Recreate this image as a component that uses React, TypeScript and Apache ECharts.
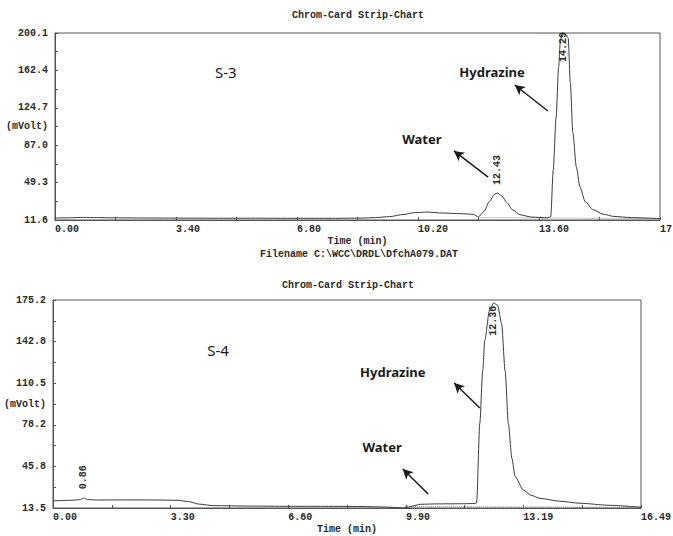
import React, { useEffect, useRef } from "react";
import * as echarts from "echarts";

// ---------- S-3 (top chart) ----------
const s3Time = [0, 0.4, 0.8, 1.2, 1.6, 2.5, 3.4, 4.5, 5.5, 6.8, 7.8, 8.6, 9.0, 9.4, 9.8, 10.1, 10.45, 10.9, 11.4, 11.75, 11.9, 12.05, 12.2, 12.35, 12.43, 12.55, 12.7, 12.85, 13.07, 13.4, 13.85, 13.93, 14.0, 14.08, 14.15, 14.2, 14.25, 14.33, 14.42, 14.48, 14.55, 14.65, 14.75, 14.9, 15.12, 15.4, 15.7, 16.2, 17.0];
const s3Volt = [13.6, 13.8, 14.2, 14.0, 13.8, 13.6, 13.5, 13.4, 13.4, 13.3, 13.3, 13.5, 14.0, 15.0, 17.2, 19.0, 19.6, 18.6, 18.0, 17.3, 14.8, 20.0, 30.0, 37.5, 38.8, 36.0, 29.0, 22.0, 16.8, 14.5, 13.8, 15.0, 62, 115, 165, 192, 199.5, 199, 195, 150, 100, 65, 45, 30, 22, 17.5, 15.2, 14.0, 13.0];
const s3BaseTime = [11.9, 17.0];
const s3BaseVolt = [14.0, 13.0];
const s3XTicks = [0, 3.4, 6.8, 10.2, 13.6, 17];
const s3XLabels = ["0.00", "3.40", "6.80", "10.20", "13.60", "17"];
const s3XMinor = [0, 1.7, 3.4, 5.1, 6.8, 8.5, 10.2, 11.9, 13.6, 15.3, 17];
const s3YTicks = [11.6, 49.3, 87.0, 124.7, 162.4, 200.1];
const s3YLabels = ["11.6", "49.3", "87.0", "124.7", "162.4", "200.1"];
const s3YMinor = [11.6, 30.45, 49.3, 68.15, 87.0, 105.85, 124.7, 143.55, 162.4, 181.25, 200.1];
const s3Peaks = [[12.43, 62, "12.43"], [14.29, 186, "14.29"]];
const s3Notes = [[4.8, 160.8, "S-3", "normal"], [12.28, 160.8, "Hydrazine", "bold"], [10.31, 93.3, "Water", "bold"]];
const s3Arrows = [[13.85, 121.5, 12.92, 147.7], [12.17, 54.9, 11.21, 81.2]];

// ---------- S-4 (bottom chart) ----------
const s4Time = [0, 0.5, 0.75, 0.86, 0.97, 1.3, 2.0, 3.0, 3.5, 3.8, 4.1, 4.5, 5.5, 6.6, 7.5, 8.5, 9.3, 9.75, 9.9, 10.05, 10.3, 10.8, 11.5, 11.83, 11.88, 11.97, 12.05, 12.11, 12.24, 12.36, 12.47, 12.58, 12.68, 12.77, 12.87, 12.96, 13.19, 13.4, 13.66, 14.2, 14.78, 15.6, 16.49];
const s4Volt = [19.0, 19.5, 20.0, 21.2, 20.0, 19.7, 19.8, 19.7, 19.5, 18.5, 16.5, 15.3, 15.0, 14.8, 14.8, 14.7, 14.3, 13.6, 13.6, 14.8, 16.4, 16.7, 16.8, 17.0, 17.4, 79.5, 120, 144, 167, 173, 171, 157, 120, 79, 52, 38, 27.5, 23.5, 21, 18.8, 17.2, 15.6, 14.1];
const s4BaseTime = [9.87, 16.49];
const s4BaseVolt = [14.6, 14.0];
const s4XTicks = [0, 3.3, 6.6, 9.9, 13.19, 16.49];
const s4XLabels = ["0.00", "3.30", "6.60", "9.90", "13.19", "16.49"];
const s4XMinor = [0, 1.65, 3.3, 4.95, 6.6, 8.25, 9.9, 11.545, 13.19, 14.84, 16.49];
const s4YTicks = [13.5, 45.84, 78.18, 110.52, 142.86, 175.2];
const s4YLabels = ["13.5", "45.8", "78.2", "110.5", "142.8", "175.2"];
const s4YMinor = [13.5, 29.67, 45.84, 62.01, 78.18, 94.35, 110.52, 126.69, 142.86, 159.03, 175.2];
const s4Peaks = [[0.86, 37.5, "0.86"], [12.36, 159, "12.36"]];
const s4Notes = [[4.63, 136.4, "S-4", "normal"], [9.53, 119.2, "Hydrazine", "bold"], [9.23, 60.9, "Water", "bold"]];
const s4Arrows = [[11.97, 91.2, 11.25, 110.7], [10.52, 24.4, 9.81, 43.8]];

const title = "Chrom-Card Strip-Chart";
const xName = "Time (min)";
const yName = "(mVolt)";
const fileName = "Filename C:\\WCC\\DRDL\\DfchA079.DAT";

const MONO = "'Liberation Mono', 'DejaVu Sans Mono', monospace";
const SANS = "'Noto Sans', 'Liberation Sans', sans-serif";
const INK = "#2a2a2a";
const AXIS = "#555";

const lookup = (vals: number[], labels: string[]) => (v: number) => {
  const i = vals.findIndex((x) => Math.abs(x - v) < 1e-6);
  return i >= 0 ? labels[i] : "";
};

const zip = (a: number[], b: number[]) => a.map((t, i) => [t, b[i]]);

function xAxisFor(gridIndex: number, max: number, ticks: number[], labels: string[], minor: number[]) {
  return {
    type: "value",
    gridIndex,
    min: 0,
    max,
    name: xName,
    nameLocation: "middle",
    nameGap: 16,
    nameMoveOverlap: false,
    nameTextStyle: { fontFamily: MONO, fontSize: 10, fontWeight: "bold", color: INK },
    splitLine: { show: false },
    axisLine: { show: true, lineStyle: { color: AXIS, width: 1 } },
    axisTick: { show: true, inside: true, length: 3, customValues: minor, lineStyle: { color: AXIS } },
    axisLabel: {
      show: true,
      customValues: ticks,
      formatter: lookup(ticks, labels),
      align: "left",
      margin: 4,
      hideOverlap: false,
      fontFamily: MONO,
      fontSize: 10,
      fontWeight: "bold",
      color: INK,
    },
  };
}

function yAxisFor(gridIndex: number, min: number, max: number, ticks: number[], labels: string[], minor: number[]) {
  return {
    type: "value",
    gridIndex,
    min,
    max,
    name: yName,
    nameLocation: "middle",
    nameRotate: 0,
    nameGap: 7,
    nameMoveOverlap: false,
    nameTextStyle: { fontFamily: MONO, fontSize: 10, fontWeight: "bold", color: INK, align: "right", verticalAlign: "middle" },
    splitLine: { show: false },
    axisLine: { show: true, lineStyle: { color: AXIS, width: 1 } },
    axisTick: { show: true, inside: true, length: 3, customValues: minor, lineStyle: { color: AXIS } },
    axisLabel: {
      show: true,
      customValues: ticks,
      formatter: lookup(ticks, labels),
      margin: 7,
      hideOverlap: false,
      fontFamily: MONO,
      fontSize: 10,
      fontWeight: "bold",
      color: INK,
    },
  };
}

function traceSeries(idx: number, time: number[], volt: number[], peaks: any[], notes: any[], arrows: number[][]) {
  return {
    type: "line",
    xAxisIndex: idx,
    yAxisIndex: idx,
    data: zip(time, volt),
    symbol: "none",
    smooth: 0.25,
    smoothMonotone: "x",
    lineStyle: { color: "#3a3a3a", width: 1 },
    silent: true,
    markPoint: {
      silent: true,
      symbol: "circle",
      symbolSize: 1,
      itemStyle: { color: "rgba(0,0,0,0)" },
      data: [
        ...peaks.map((p) => ({
          coord: [p[0], p[1]],
          label: {
            show: true,
            position: "inside",
            rotate: 90,
            formatter: p[2],
            fontFamily: MONO,
            fontSize: 10,
            fontWeight: "bold",
            color: INK,
          },
        })),
        ...notes.map((n) => ({
          coord: [n[0], n[1]],
          label: {
            show: true,
            position: "inside",
            formatter: n[2],
            fontFamily: SANS,
            fontSize: n[3] === "bold" ? 13 : 15,
            fontWeight: n[3],
            color: "#1a1a1a",
          },
        })),
      ],
    },
    markLine: {
      silent: true,
      animation: false,
      symbol: ["none", "arrow"],
      symbolSize: [8, 10],
      label: { show: false },
      lineStyle: { color: "#1a1a1a", width: 1.5, type: "solid" },
      data: arrows.map((a) => [{ coord: [a[0], a[1]] }, { coord: [a[2], a[3]] }]),
    },
  };
}

function baseSeries(idx: number, time: number[], volt: number[]) {
  return {
    type: "line",
    xAxisIndex: idx,
    yAxisIndex: idx,
    data: zip(time, volt),
    symbol: "none",
    silent: true,
    lineStyle: { color: "#8a8a8a", width: 1, type: "dotted" },
  };
}

export default function App() {
  const ref = useRef<HTMLDivElement>(null);
  useEffect(() => {
    if (!ref.current) return;
    const chart = echarts.init(ref.current, null, { renderer: "svg" });
    const option: any = {
      animation: false,
      backgroundColor: "#ffffff",
      grid: [
        { left: 55, top: 33, width: 605, height: 187, show: true, borderColor: AXIS, borderWidth: 1, containLabel: false, outerBoundsMode: "none" },
        { left: 53, top: 300, width: 588, height: 208, show: true, borderColor: AXIS, borderWidth: 1, containLabel: false, outerBoundsMode: "none" },
      ],
      xAxis: [
        xAxisFor(0, 17, s3XTicks, s3XLabels, s3XMinor),
        xAxisFor(1, 16.49, s4XTicks, s4XLabels, s4XMinor),
      ],
      yAxis: [
        yAxisFor(0, 11.6, 200.1, s3YTicks, s3YLabels, s3YMinor),
        yAxisFor(1, 13.5, 175.2, s4YTicks, s4YLabels, s4YMinor),
      ],
      series: [
        baseSeries(0, s3BaseTime, s3BaseVolt),
        traceSeries(0, s3Time, s3Volt, s3Peaks, s3Notes, s3Arrows),
        baseSeries(1, s4BaseTime, s4BaseVolt),
        traceSeries(1, s4Time, s4Volt, s4Peaks, s4Notes, s4Arrows),
      ],
      graphic: [
        {
          type: "text",
          x: 358,
          y: 15,
          style: { text: title, textAlign: "center", textVerticalAlign: "middle", font: `bold 10px ${MONO}`, fill: INK },
        },
        {
          type: "text",
          x: 359,
          y: 254,
          style: { text: fileName, textAlign: "center", textVerticalAlign: "middle", font: `bold 10px ${MONO}`, fill: INK },
        },
        {
          type: "text",
          x: 348,
          y: 285,
          style: { text: title, textAlign: "center", textVerticalAlign: "middle", font: `bold 10px ${MONO}`, fill: INK },
        },
      ],
    };
    chart.setOption(option);
    return () => chart.dispose();
  }, []);
  return (
    <div
      ref={ref}
      style={{ position: "fixed", left: 0, top: 0, width: 673, height: 536, background: "#fff" }}
    />
  );
}
